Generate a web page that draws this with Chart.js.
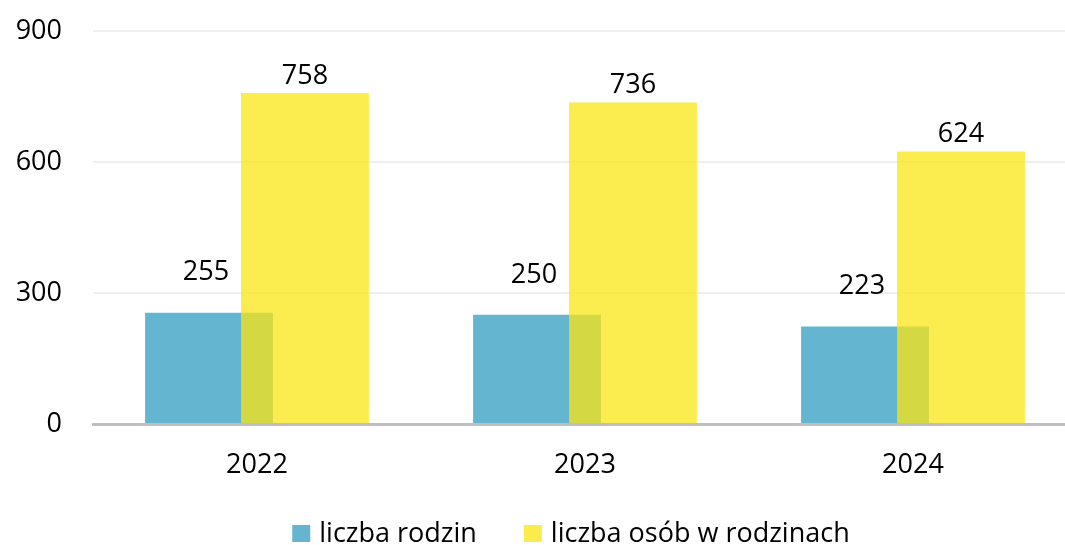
<!DOCTYPE html>
<html>
<head>
<meta charset="utf-8">
<script src="https://cdn.jsdelivr.net/npm/chart.js@4"></script>
<style>
  html, body { margin: 0; padding: 0; background: #fff; overflow: hidden; }
  #wrap { width: 1080px; height: 545px; }
</style>
</head>
<body>
<div id="wrap"><canvas id="canvas" width="1080" height="545"></canvas></div>
<script>
const years = ["2022", "2023", "2024"];
const families = [255, 250, 223];
const persons = [758, 736, 624];
const seriesNames = ["liczba rodzin", "liczba osób w rodzinach"];
const yTicks = [0, 300, 600, 900];

const FONT = "'Open Sans', 'Noto Sans', sans-serif";
const blue = "rgb(100,181,208)";
const yellow = "rgba(250,229,20,0.75)";

// yellow bars have to sit over the blue ones, so draw them last
const overlapOrder = {
  id: "overlapOrder",
  beforeDatasetDraw(chart, args) {
    if (args.index === 1) return false;
  },
  afterDatasetsDraw(chart) {
    chart.getDatasetMeta(1).controller.draw();
  }
};

const valueLabels = {
  id: "valueLabels",
  afterDatasetsDraw(chart) {
    const ctx = chart.ctx;
    const lift = [40, 17];
    ctx.save();
    ctx.font = "27px " + FONT;
    ctx.fillStyle = "#000";
    ctx.textAlign = "center";
    ctx.textBaseline = "middle";
    chart.data.datasets.forEach((ds, i) => {
      chart.getDatasetMeta(i).data.forEach((bar, j) => {
        ctx.fillText(ds.data[j], bar.x - (i === 0 ? 3 : 0), bar.y - lift[i]);
      });
    });
    ctx.restore();
  }
};

const bottomLegend = {
  id: "bottomLegend",
  afterDraw(chart) {
    const ctx = chart.ctx;
    const boxW = 18, boxH = 17, textGap = 9, itemGap = 47, centerX = 571, baseline = 542;
    ctx.save();
    ctx.font = "27px " + FONT;
    ctx.textBaseline = "alphabetic";
    const ds = chart.data.datasets;
    const widths = ds.map(d => ctx.measureText(d.label).width);
    let total = 0;
    widths.forEach((w, i) => { total += boxW + textGap + w + (i ? itemGap : 0); });
    let x = centerX - total / 2;
    ds.forEach((d, i) => {
      ctx.fillStyle = i === 0 ? blue : "rgb(251,235,77)";
      ctx.fillRect(x, baseline - boxH, boxW, boxH);
      ctx.fillStyle = "#000";
      ctx.fillText(d.label, x + boxW + textGap, baseline);
      x += boxW + textGap + widths[i] + itemGap;
    });
    ctx.restore();
  }
};

new Chart(document.getElementById("canvas"), {
  type: "bar",
  data: {
    labels: years,
    datasets: [
      { label: seriesNames[0], data: families, backgroundColor: blue },
      { label: seriesNames[1], data: persons, backgroundColor: yellow }
    ]
  },
  options: {
    responsive: false,
    animation: false,
    devicePixelRatio: 1,
    categoryPercentage: 0.585,
    barPercentage: 1.333,
    layout: { padding: { top: 31, right: 3, bottom: 0, left: 0 } },
    plugins: {
      legend: { display: false },
      title: { display: false },
      tooltip: { enabled: false }
    },
    scales: {
      x: {
        grid: { display: false, drawTicks: false },
        border: { color: "#BFBFBF", width: 3 },
        ticks: { color: "#000", font: { family: FONT, size: 27 }, padding: 25 },
        afterFit(scale) { scale.height = 121; }
      },
      y: {
        min: 0,
        max: 900,
        afterBuildTicks(scale) { scale.ticks = yTicks.map(v => ({ value: v })); },
        grid: { color: "#EFEFEF", lineWidth: 2, drawTicks: false },
        border: { display: false },
        ticks: { color: "#000", font: { family: FONT, size: 27 }, padding: 31 },
        afterFit(scale) {
          scale.width = 93;
          scale.paddingTop = 0;
          scale.paddingBottom = 0;
        }
      }
    }
  },
  plugins: [overlapOrder, valueLabels, bottomLegend]
});
</script>
</body>
</html>
